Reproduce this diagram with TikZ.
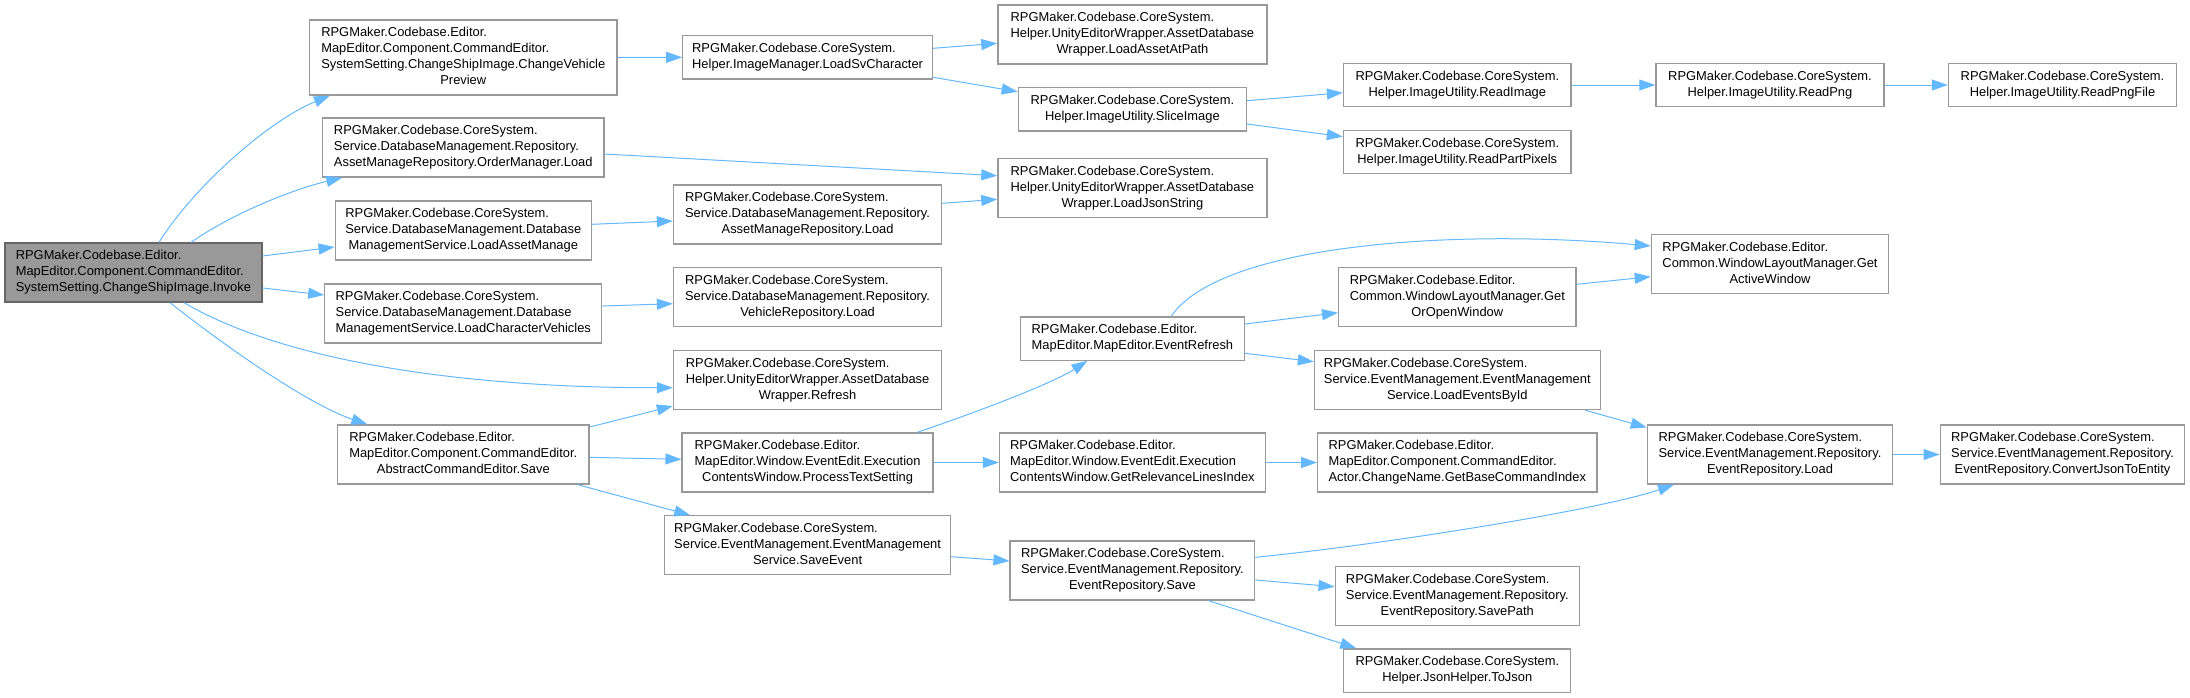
\documentclass[tikz,border=0pt]{standalone}
\usepackage{fontspec}
\setmainfont{Liberation Sans}
\usetikzlibrary{arrows.meta,calc}
\definecolor{edgeblue}{HTML}{63B8FF}
\definecolor{boxgray}{HTML}{999999}
\definecolor{mainfill}{HTML}{999999}
\definecolor{mainborder}{HTML}{666666}
\newcommand{\lc}[1]{\multicolumn{1}{@{}c@{}}{#1}}
\newcommand{\tb}[1]{\begin{tabular}{@{}l@{}}#1\end{tabular}}
\begin{document}
\begin{tikzpicture}[x=1pt,y=-1pt,
  box/.style={draw=boxgray, fill=white, line width=1.3pt, inner sep=0pt,
    font=\fontsize{12.9}{16}\selectfont},
  h2/.style={minimum height=43.3pt},
  h3/.style={minimum height=59pt},
  h4/.style={minimum height=75pt},
  mainbox/.style={box, fill=mainfill, draw=mainborder},
  arr/.style={draw=edgeblue, line width=1pt, -{Triangle[length=16pt,width=11pt]}}]
\useasboundingbox (0,0) rectangle (2190,697);

% column 1
\node[mainbox,h3,minimum width=257pt] (main) at (133.4,272.5)
  {\tb{RPGMaker.Codebase.Editor.\\MapEditor.Component.CommandEditor.\\\lc{SystemSetting.ChangeShipImage.Invoke}}};

% column 2
\node[box,h4,minimum width=307.4pt] (cvp) at (463.3,57.5)
  {\tb{RPGMaker.Codebase.Editor.\\MapEditor.Component.CommandEditor.\\SystemSetting.ChangeShipImage.ChangeVehicle\\\lc{Preview}}};
\node[box,h3,minimum width=281.3pt] (oml) at (463.3,147.5)
  {\tb{RPGMaker.Codebase.CoreSystem.\\Service.DatabaseManagement.Repository.\\\lc{AssetManageRepository.OrderManager.Load}}};
\node[box,h3,minimum width=256.2pt] (lam) at (463.3,230.5)
  {\tb{RPGMaker.Codebase.CoreSystem.\\Service.DatabaseManagement.Database\\\lc{ManagementService.LoadAssetManage}}};
\node[box,h3,minimum width=277pt] (lcv) at (463.3,313.5)
  {\tb{RPGMaker.Codebase.CoreSystem.\\Service.DatabaseManagement.Database\\\lc{ManagementService.LoadCharacterVehicles}}};
\node[box,h3,minimum width=251.4pt] (save) at (463.3,454.5)
  {\tb{RPGMaker.Codebase.Editor.\\MapEditor.Component.CommandEditor.\\\lc{AbstractCommandEditor.Save}}};

% column 3
\node[box,h2,minimum width=249.6pt] (lsv) at (807.6,57.3)
  {\tb{RPGMaker.Codebase.CoreSystem.\\\lc{Helper.ImageManager.LoadSvCharacter}}};
\node[box,h3,minimum width=268.2pt] (amr) at (807.6,214.5)
  {\tb{RPGMaker.Codebase.CoreSystem.\\Service.DatabaseManagement.Repository.\\\lc{AssetManageRepository.Load}}};
\node[box,h3,minimum width=268.2pt] (vrl) at (807.6,297.2)
  {\tb{RPGMaker.Codebase.CoreSystem.\\Service.DatabaseManagement.Repository.\\\lc{VehicleRepository.Load}}};
\node[box,h3,minimum width=268.2pt] (refresh) at (807.6,380)
  {\tb{RPGMaker.Codebase.CoreSystem.\\Helper.UnityEditorWrapper.AssetDatabase\\\lc{Wrapper.Refresh}}};
\node[box,h3,minimum width=251pt] (pts) at (807.6,462.5)
  {\tb{RPGMaker.Codebase.Editor.\\MapEditor.Window.EventEdit.Execution\\\lc{ContentsWindow.ProcessTextSetting}}};
\node[box,h3,minimum width=286pt] (sev) at (807.6,545.3)
  {\tb{RPGMaker.Codebase.CoreSystem.\\Service.EventManagement.EventManagement\\\lc{Service.SaveEvent}}};

% column 4
\node[box,h3,minimum width=269pt] (laap) at (1132.4,34.5)
  {\tb{RPGMaker.Codebase.CoreSystem.\\Helper.UnityEditorWrapper.AssetDatabase\\\lc{Wrapper.LoadAssetAtPath}}};
\node[box,h2,minimum width=228.2pt] (slice) at (1132.4,109.2)
  {\tb{RPGMaker.Codebase.CoreSystem.\\\lc{Helper.ImageUtility.SliceImage}}};
\node[box,h3,minimum width=269pt] (ljs) at (1132.4,188)
  {\tb{RPGMaker.Codebase.CoreSystem.\\Helper.UnityEditorWrapper.AssetDatabase\\\lc{Wrapper.LoadJsonString}}};
\node[box,h2,minimum width=224pt] (erefresh) at (1132.4,338.5)
  {\tb{RPGMaker.Codebase.Editor.\\\lc{MapEditor.MapEditor.EventRefresh}}};
\node[box,h3,minimum width=266pt] (grli) at (1132.4,462.5)
  {\tb{RPGMaker.Codebase.Editor.\\MapEditor.Window.EventEdit.Execution\\\lc{ContentsWindow.GetRelevanceLinesIndex}}};
\node[box,h3,minimum width=244.6pt] (ersave) at (1132.4,570.5)
  {\tb{RPGMaker.Codebase.CoreSystem.\\Service.EventManagement.Repository.\\\lc{EventRepository.Save}}};

% column 5
\node[box,h2,minimum width=227.6pt] (readimage) at (1457.3,85)
  {\tb{RPGMaker.Codebase.CoreSystem.\\\lc{Helper.ImageUtility.ReadImage}}};
\node[box,h2,minimum width=227.6pt] (rpp) at (1457.3,151.8)
  {\tb{RPGMaker.Codebase.CoreSystem.\\\lc{Helper.ImageUtility.ReadPartPixels}}};
\node[box,h3,minimum width=237.3pt] (goow) at (1457.3,297)
  {\tb{RPGMaker.Codebase.Editor.\\Common.WindowLayoutManager.Get\\\lc{OrOpenWindow}}};
\node[box,h3,minimum width=285.7pt] (lebi) at (1457.3,380)
  {\tb{RPGMaker.Codebase.CoreSystem.\\Service.EventManagement.EventManagement\\\lc{Service.LoadEventsById}}};
\node[box,h3,minimum width=279.3pt] (gbci) at (1457.3,462.5)
  {\tb{RPGMaker.Codebase.Editor.\\MapEditor.Component.CommandEditor.\\\lc{Actor.ChangeName.GetBaseCommandIndex}}};
\node[box,h3,minimum width=244.3pt] (savepath) at (1457.3,596)
  {\tb{RPGMaker.Codebase.CoreSystem.\\Service.EventManagement.Repository.\\\lc{EventRepository.SavePath}}};
\node[box,h2,minimum width=227pt] (tojson) at (1457.3,670.5)
  {\tb{RPGMaker.Codebase.CoreSystem.\\\lc{Helper.JsonHelper.ToJson}}};

% column 6
\node[box,h2,minimum width=228pt] (readpng) at (1770,85)
  {\tb{RPGMaker.Codebase.CoreSystem.\\\lc{Helper.ImageUtility.ReadPng}}};
\node[box,h3,minimum width=237.3pt] (gaw) at (1770,263.8)
  {\tb{RPGMaker.Codebase.Editor.\\Common.WindowLayoutManager.Get\\\lc{ActiveWindow}}};
\node[box,h3,minimum width=245.2pt] (erload) at (1770,454.5)
  {\tb{RPGMaker.Codebase.CoreSystem.\\Service.EventManagement.Repository.\\\lc{EventRepository.Load}}};

% column 7
\node[box,h2,minimum width=228.2pt] (readpngfile) at (2062.5,85)
  {\tb{RPGMaker.Codebase.CoreSystem.\\\lc{Helper.ImageUtility.ReadPngFile}}};
\node[box,h3,minimum width=244.6pt] (cjte) at (2062.5,454.5)
  {\tb{RPGMaker.Codebase.CoreSystem.\\Service.EventManagement.Repository.\\\lc{EventRepository.ConvertJsonToEntity}}};

% edges from main
\draw[arr] ($(main.north)+(25.6,0)$) .. controls (195,185) and (270,120) .. ($(cvp.south west)+(21,0)$);
\draw[arr] ($(main.north)+(57.6,0)$) .. controls (230,215) and (290,190) .. ($(oml.south west)+(20.3,0)$);
\draw[arr] ($(main.east)+(0,-16.5)$) -- ($(lam.west)+(0,16.5)$);
\draw[arr] ($(main.east)+(0,15.5)$) -- ($(lcv.west)+(0,-18.5)$);
\draw[arr] ($(main.south)+(50.6,0)$) .. controls (290,365) and (480,388) .. ($(refresh.west)+(0,7.7)$);
\draw[arr] ($(main.south)+(36.6,0)$) .. controls (230,350) and (310,405) .. ($(save.north west)+(30.4,0)$);

% column 2 -> 3/4
\draw[arr] (cvp.east) -- (lsv.west);
\draw[arr] ($(oml.east)+(0,6.5)$) -- ($(ljs.west)+(0,-12.3)$);
\draw[arr] ($(lam.east)+(0,-6.2)$) -- ($(amr.west)+(0,6.5)$);
\draw[arr] ($(lcv.east)+(0,-7.5)$) -- ($(vrl.west)+(0,6.5)$);
\draw[arr] ($(save.east)+(0,-27.5)$) -- ($(refresh.west)+(0,26)$);
\draw[arr] ($(save.east)+(0,2.8)$) -- ($(pts.west)+(0,-3.2)$);
\draw[arr] ($(save.south east)+(-12,0)$) -- ($(sev.north west)+(26.3,0)$);

% column 3 -> 4
\draw[arr] ($(lsv.east)+(0,-9)$) -- ($(laap.west)+(0,8.8)$);
\draw[arr] ($(lsv.east)+(0,20)$) -- ($(slice.west)+(0,-17.5)$);
\draw[arr] ($(amr.east)+(0,-11.2)$) -- ($(ljs.west)+(0,11.3)$);
\draw[arr] ($(pts.north)+(109.5,0)$) .. controls (960,418) and (1050,385) .. ($(erefresh.south)+(-45,0)$);
\draw[arr] (pts.east) -- (grli.west);
\draw[arr] ($(sev.east)+(0,11.4)$) -- ($(ersave.west)+(0,-9.5)$);

% column 4 -> 5/6
\draw[arr] ($(slice.east)+(0,-8.5)$) -- ($(readimage.west)+(0,7.7)$);
\draw[arr] ($(slice.east)+(0,14.8)$) -- ($(rpp.west)+(0,-15.1)$);
\draw[arr] ($(erefresh.north)+(38.8,0)$) .. controls (1220,245) and (1450,228) .. ($(gaw.west)+(0,-17.8)$);
\draw[arr] ($(erefresh.east)+(0,-14.5)$) -- ($(goow.west)+(0,15.7)$);
\draw[arr] ($(erefresh.east)+(0,14.8)$) -- ($(lebi.west)+(0,-18.3)$);
\draw[arr] (grli.east) -- (gbci.west);
\draw[arr] ($(ersave.east)+(0,-13.2)$) .. controls (1380,545) and (1600,510) .. ($(erload.south west)+(27.2,0)$);
\draw[arr] ($(ersave.east)+(0,9.5)$) -- ($(savepath.west)+(0,-9.3)$);
\draw[arr] ($(ersave.south)+(76.2,0)$) -- ($(tojson.north west)+(13.1,0)$);

% column 5 -> 6 -> 7
\draw[arr] (readimage.east) -- (readpng.west);
\draw[arr] (readpng.east) -- (readpngfile.west);
\draw[arr] ($(goow.east)+(0,-12.7)$) -- ($(gaw.west)+(0,12.9)$);
\draw[arr] ($(lebi.south east)+(-15.9,0)$) -- ($(erload.west)+(0,-27)$);
\draw[arr] (erload.east) -- (cjte.west);
\end{tikzpicture}
\end{document}
